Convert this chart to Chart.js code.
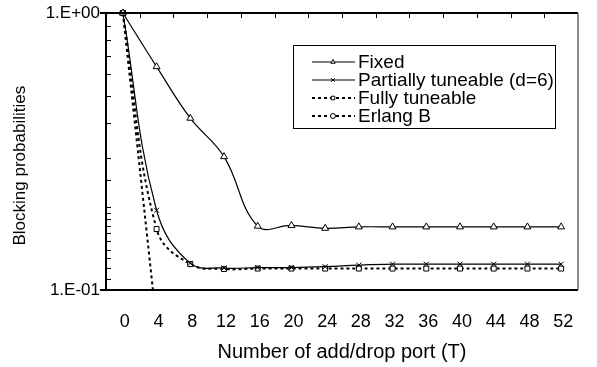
<!DOCTYPE html>
<html>
<head>
<meta charset="utf-8">
<script src="https://cdn.jsdelivr.net/npm/chart.js@4.4.0/dist/chart.umd.min.js"></script>
<style>
  body { margin: 0; background: #fff; }
  #chart { display: block; }
</style>
</head>
<body>
<canvas id="chart" width="597" height="367"></canvas>
<script>
// --- data ---
const ports = ['0', '4', '8', '12', '16', '20', '24', '28', '32', '36', '40', '44', '48', '52'];
const fixed = [1.0, 0.64, 0.417, 0.303, 0.170, 0.171, 0.167, 0.169, 0.169, 0.169, 0.169, 0.169, 0.169, 0.169];
const partial = [1.0, 0.194, 0.125, 0.120, 0.1205, 0.1205, 0.1214, 0.123, 0.124, 0.124, 0.124, 0.124, 0.124, 0.124];
const fully = [1.0, 0.166, 0.124, 0.119, 0.1195, 0.1195, 0.1195, 0.1195, 0.1195, 0.1195, 0.1195, 0.1195, 0.1195, 0.1195];
// Erlang B falls off the bottom of the axis after T=0
const erlangB = [1.0, 0.075, 0.005, null, null, null, null, null, null, null, null, null, null, null];

const FONT = '"Liberation Sans", Arial, sans-serif';

// frame, inward ticks and the boxed legend
const framePlugin = {
    id: 'framePlugin',
    afterDraw(chart) {
        const { ctx, chartArea: a, scales: { x, y } } = chart;
        ctx.save();
        ctx.strokeStyle = '#000';
        ctx.lineWidth = 1;
        ctx.beginPath();
        y.ticks.forEach(t => {
            if (Math.abs(t.value - 1) < 1e-9 || Math.abs(t.value - 0.1) < 1e-9) return;
            const py = Math.round(y.getPixelForValue(t.value)) + 0.5;
            ctx.moveTo(a.left, py);
            ctx.lineTo(a.left + 5, py);
        });
        for (let i = 1; i < ports.length; i++) {
            const px = Math.round((x.getPixelForValue(i - 1) + x.getPixelForValue(i)) / 2) + 0.5;
            ctx.moveTo(px, a.top);
            ctx.lineTo(px, a.top + 5);
        }
        ctx.stroke();

        // axes
        ctx.lineWidth = 2;
        ctx.beginPath();
        ctx.moveTo(a.left - 6, a.top);
        ctx.lineTo(a.right, a.top);
        ctx.moveTo(a.left, a.top);
        ctx.lineTo(a.left, a.bottom);
        ctx.moveTo(a.left - 6, a.bottom);
        ctx.lineTo(a.right, a.bottom);
        ctx.stroke();
        ctx.strokeStyle = '#666';
        ctx.lineWidth = 1.5;
        ctx.beginPath();
        ctx.moveTo(a.right, a.top);
        ctx.lineTo(a.right, a.bottom);
        ctx.stroke();

        // legend
        const bx = 293.5, by = 45.5, bw = 262, bh = 83;
        ctx.fillStyle = '#fff';
        ctx.fillRect(bx, by, bw, bh);
        ctx.strokeStyle = '#000';
        ctx.lineWidth = 1;
        ctx.strokeRect(bx, by, bw, bh);
        ctx.font = '19px ' + FONT;
        ctx.textBaseline = 'middle';
        ctx.textAlign = 'left';
        chart.data.datasets.forEach((ds, i) => {
            const ry = 62 + i * 18;
            ctx.save();
            ctx.strokeStyle = '#000';
            ctx.lineWidth = ds.legendWidth;
            ctx.setLineDash(ds.borderDash || []);
            ctx.beginPath();
            ctx.moveTo(312, ry);
            ctx.lineTo(355, ry);
            ctx.stroke();
            ctx.setLineDash([]);
            ctx.fillStyle = '#fff';
            ctx.lineWidth = 1;
            Chart.helpers.drawPoint(ctx, { pointStyle: ds.pointStyle, radius: 2.5, rotation: 0, borderWidth: 1 }, 333, ry);
            ctx.restore();
            ctx.fillStyle = '#000';
            ctx.fillText(ds.label, 358, ry + 1);
        });
        ctx.restore();
    }
};

function series(label, data, style, dash, width, radius) {
    return {
        label: label,
        data: data,
        borderColor: '#000',
        backgroundColor: '#fff',
        borderWidth: width,
        legendWidth: width,
        borderDash: dash,
        pointStyle: style,
        pointRadius: radius,
        pointBorderWidth: 1,
        pointBorderColor: '#000',
        pointBackgroundColor: '#fff',
        tension: 0.4,
        spanGaps: false,
        clip: { left: 8, top: 8, right: 8, bottom: 0 }
    };
}

new Chart(document.getElementById('chart'), {
    type: 'line',
    data: {
        labels: ports,
        datasets: [
            series('Fixed', fixed, 'triangle', [], 1.2, 4),
            series('Partially tuneable (d=6)', partial, 'crossRot', [], 1.2, 3.5),
            series('Fully tuneable', fully, 'rect', [3, 3], 2, 3.5),
            series('Erlang B', erlangB, 'circle', [3, 3], 2, 3)
        ]
    },
    options: {
        responsive: false,
        animation: false,
        layout: { padding: { top: 13, right: 19, left: 0, bottom: 0 } },
        plugins: { legend: { display: false }, tooltip: { enabled: false } },
        scales: {
            x: {
                type: 'category',
                offset: true,
                grid: { display: false, drawTicks: false },
                border: { display: false },
                ticks: { color: '#000', padding: 21, labelOffset: 2, autoSkip: false, maxRotation: 0, font: { family: FONT, size: 18 } },
                title: { display: true, text: 'Number of add/drop port (T)', color: '#000', padding: { top: 0, bottom: 3 }, font: { family: FONT, size: 20 } },
                afterFit: s => { s.height = 77; }
            },
            y: {
                type: 'logarithmic',
                min: 0.1,
                max: 1,
                grid: {
                    drawOnChartArea: false,
                    drawTicks: true,
                    tickLength: 6,
                    color: c => (c.tick && (Math.abs(c.tick.value - 1) < 1e-9 || Math.abs(c.tick.value - 0.1) < 1e-9)) ? '#000' : 'rgba(0,0,0,0)'
                },
                border: { display: false },
                ticks: {
                    color: '#000',
                    padding: 0,
                    autoSkip: false,
                    font: { family: FONT, size: 17 },
                    callback: v => Math.abs(v - 1) < 1e-9 ? '1.E+00' : (Math.abs(v - 0.1) < 1e-9 ? '1.E-01' : '')
                },
                // trailing spaces push the rotated title a little down, as in the original
                title: { display: true, text: 'Blocking probabilities      ', color: '#000', padding: { top: 10, bottom: 0 }, font: { family: FONT, size: 17 } },
                afterFit: s => { s.width = 106; }
            }
        }
    },
    plugins: [framePlugin]
});
</script>
</body>
</html>
